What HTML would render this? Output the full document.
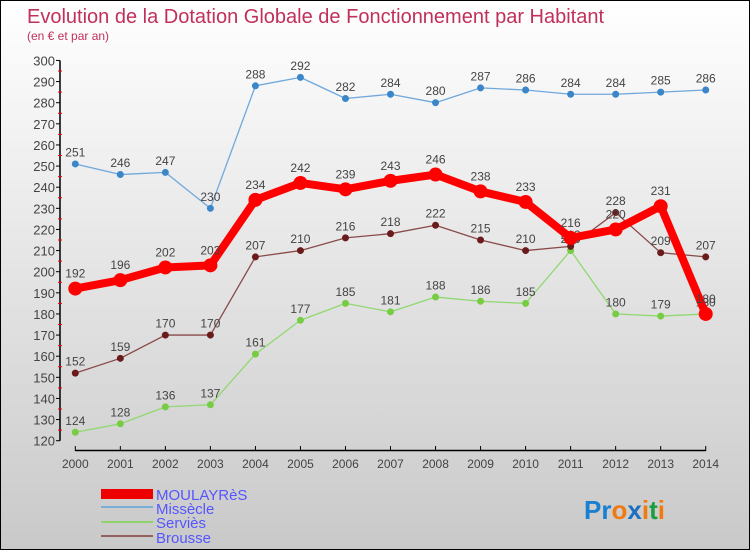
<!DOCTYPE html>
<html><head><meta charset="utf-8"><style>
body{margin:0;width:750px;height:550px;overflow:hidden;font-family:"Liberation Sans",sans-serif}
#wrap{position:relative;width:748px;height:548px;border:1px solid #000;background:linear-gradient(#fff,#c9c9c9)}
</style></head><body>
<div id="wrap">
<svg id="svg" width="748" height="548" style="position:absolute;left:0;top:0">
<text x="26" y="22" font-size="20" fill="#c0305a">Evolution de la Dotation Globale de Fonctionnement par Habitant</text>
<text x="26" y="39" font-size="12" fill="#c0305a">(en € et par an)</text>
<g id="axes"></g><g id="series"></g>
<g>
<rect x="100" y="488" width="52" height="10" fill="#e00"/>
<text x="155" y="499" font-size="15" fill="#55f">MOULAYRèS</text>
<line x1="100" y1="506" x2="152" y2="506" stroke="#7aaed6" stroke-width="2"/>
<text x="155" y="513" font-size="15" fill="#55f">Missècle</text>
<line x1="100" y1="521" x2="152" y2="521" stroke="#8fd46a" stroke-width="2"/>
<text x="155" y="527" font-size="15" fill="#55f">Serviès</text>
<line x1="100" y1="535" x2="152" y2="535" stroke="#946060" stroke-width="2"/>
<text x="155" y="542" font-size="15" fill="#55f">Brousse</text>
</g>
<text x="583" y="518" font-size="26" font-weight="bold"><tspan fill="#1a7fd0">Pr</tspan><tspan fill="#f07a10">o</tspan><tspan fill="#1a6fc0">x</tspan><tspan fill="#f07a10">i</tspan><tspan fill="#1a9f40">t</tspan><tspan fill="#f07a10">i</tspan></text>
</svg></div>
<script>
const years=[2000,2001,2002,2003,2004,2005,2006,2007,2008,2009,2010,2011,2012,2013,2014];
const moulayres=[192,196,202,203,234,242,239,243,246,238,233,216,220,231,180];
const missecle=[251,246,247,230,288,292,282,284,280,287,286,284,284,285,286];
const servies=[124,128,136,137,161,177,185,181,188,186,185,210,180,179,180];
const brousse=[152,159,170,170,207,210,216,218,222,215,210,212,228,209,207];
const yTicks=[120,130,140,150,160,170,180,190,200,210,220,230,240,250,260,270,280,290,300];
const NS="http://www.w3.org/2000/svg";
const X=i=>74.3+i*45.03, Y=v=>439.7-(v-120)*2.1125;
function mk(t,a,p){const e=document.createElementNS(NS,t);for(const k in a)e.setAttribute(k,a[k]);p.appendChild(e);return e;}
const ax=document.getElementById('axes'),sg=document.getElementById('series');
let e=mk('line',{x1:59,y1:Y(300),x2:59,y2:Y(120),stroke:'#000','stroke-width':1.5},ax);

yTicks.forEach(v=>{mk('line',{x1:55,y1:Y(v),x2:59,y2:Y(v),stroke:'#000'},ax);
 if(v<300)mk('line',{x1:57,y1:Y(v+5),x2:61,y2:Y(v+5),stroke:'#e00'},ax);
 const t=mk('text',{x:54,y:Y(v)+5,'font-size':13,fill:'#444','text-anchor':'end'},ax);t.textContent=v;
 });
e=mk('line',{x1:X(0),y1:449.5,x2:X(14),y2:449.5,stroke:'#000','stroke-width':1.5},ax);

years.forEach((y,i)=>{mk('line',{x1:X(i),y1:445,x2:X(i),y2:450,stroke:'#000'},ax);
 const t=mk('text',{x:X(i),y:467,'font-size':12,fill:'#444','text-anchor':'middle'},ax);t.textContent=y;
 });
function series(d,name,col,dot,w,r){const g=mk('g',{},sg);
 
 mk('polyline',{points:d.map((v,i)=>X(i)+','+Y(v)).join(' '),fill:'none',stroke:col,'stroke-width':w,'stroke-linejoin':'round'},g);
 d.forEach((v,i)=>{const c=mk('circle',{cx:X(i),cy:Y(v),r:r,fill:dot},g);
  
  const t=mk('text',{x:X(i),y:Y(v)-(r+4),'font-size':12,fill:'#444','text-anchor':'middle'},g);t.textContent=v;
  });}
series(missecle,'missecle','#6fa8dc','#3a86c8',1.3,3.5);
series(servies,'servies','#90d870','#78cc44',1.3,3.5);
series(brousse,'brousse','#8a4a4a','#6a1c1c',1.3,3.5);
series(moulayres,'moulayres','#f00','#f00',8,7);
</script></body></html>
